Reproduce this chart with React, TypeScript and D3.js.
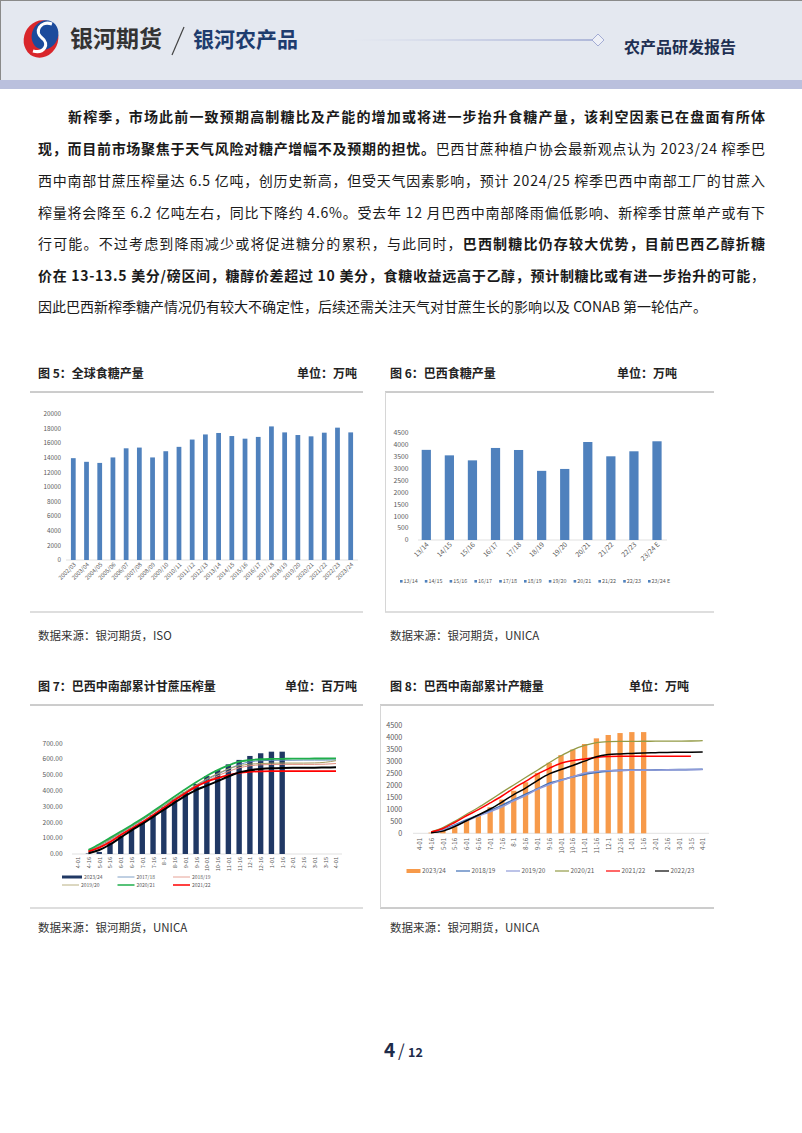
import React from 'react';
import * as d3 from 'd3';

const W = 802;
const H = 1133;
const FONT = '"Noto Sans CJK SC", "Noto Sans", sans-serif';

// ---------- Chart 5: global sugar production ----------
const globalSeasons = ['2002/03','2003/04','2004/05','2005/06','2006/07','2007/08','2008/09','2009/10','2010/11','2011/12','2012/13','2013/14','2014/15','2015/16','2016/17','2017/18','2018/19','2019/20','2020/21','2021/22','2022/23','2023/24'];
const globalProduction = [13950,13450,13300,14050,15300,15400,14050,14900,15500,16500,17200,17400,16980,16620,16860,18300,17480,17120,16940,17440,18130,17480];
const globalTicks = [0,2000,4000,6000,8000,10000,12000,14000,16000,18000,20000];

// ---------- Chart 6: Brazil sugar production ----------
const brazilSeasons = ['13/14','14/15','15/16','16/17','17/18','18/19','19/20','20/21','21/22','22/23','23/24 E'];
const brazilProduction = [3780,3550,3340,3860,3775,2900,2980,4110,3510,3720,4140];
const brazilTicks = [0,500,1000,1500,2000,2500,3000,3500,4000,4500];

// ---------- Shared x categories for charts 7/8 ----------
const harvestDates = ['4-01','4-16','5-01','5-16','6-01','6-16','7-01','7-16','8-1','8-16','9-01','9-16','10-01','10-16','11-01','11-16','12-1','12-16','1-01','1-16','2-01','2-16','3-01','3-15','4-01'];

// ---------- Chart 7: cumulative cane crush (million t) ----------
const crush2324 = [0,3,13,72,116,160,202,247,295,346,392,443,493,531,567,595,620,637,647,647,null,null,null,null,null];
const crush1718 = [null,20,50,90,132,172,215,260,305,350,392,432,470,505,537,565,583,590,592,593,593,594,594,594,595];
const crush1819 = [null,18,45,85,125,165,206,250,295,340,385,425,460,494,522,545,558,564,566,567,567,567,567,568,572];
const crush1920 = [null,22,55,95,135,176,218,262,307,352,395,436,475,508,538,558,568,572,574,575,575,575,576,580,590];
const crush2021 = [null,26,62,102,142,182,224,270,317,364,410,454,495,530,560,584,594,599,601,602,603,603,604,604,605];
const crush2122 = [null,15,40,76,120,160,200,245,292,340,384,426,458,480,498,513,520,523,524,524,524,524,524,524,524];
const crush2223 = [null,5,25,60,105,150,190,235,280,325,368,404,432,461,490,516,530,538,542,544,545,546,546,547,548];
const crushTicks = [0,100,200,300,400,500,600,700];

// ---------- Chart 8: cumulative sugar output (10k t) ----------
const sugar2324 = [0,30,110,280,520,760,1080,1400,1770,2120,2510,2930,3250,3480,3710,3945,4085,4165,4205,4205,null,null,null,null,null];
const sugar1819 = [null,30,150,350,560,750,950,1160,1400,1620,1850,2080,2210,2350,2450,2530,2585,2615,2625,2630,2635,2640,2645,2650,2660];
const sugar1920 = [null,30,140,320,520,720,900,1100,1350,1570,1830,2030,2200,2350,2500,2570,2600,2615,2620,2625,2630,2635,2640,2645,2650];
const sugar2021 = [null,60,240,500,790,1070,1380,1700,2010,2320,2620,2930,3220,3470,3650,3770,3810,3820,3822,3824,3826,3828,3830,3835,3850];
const sugar2122 = [null,50,200,450,730,980,1260,1550,1870,2160,2460,2700,2910,3020,3090,3150,3190,3200,3200,3200,3200,3200,3200,3200,null];
const sugar2223 = [null,20,90,280,520,760,1010,1300,1610,1880,2190,2470,2650,2820,3000,3180,3270,3300,3320,3340,3350,3360,3365,3370,3380];
const sugarTicks = [0,500,1000,1500,2000,2500,3000,3500,4000,4500];

const crushLines = [
  { name: '2017/18', data: crush1718, color: '#5f88b8', width: 1 },
  { name: '2018/19', data: crush1819, color: '#e08a7b', width: 1 },
  { name: '2019/20', data: crush1920, color: '#a79c62', width: 1 },
  { name: '2020/21', data: crush2021, color: '#1fae4b', width: 1.8 },
  { name: '2021/22', data: crush2122, color: '#ff0000', width: 1.8 },
  { name: '2022/23', data: crush2223, color: '#000000', width: 2 },
];

const sugarLines = [
  { name: '2018/19', data: sugar1819, color: '#3d6db5', width: 1.6 },
  { name: '2019/20', data: sugar1920, color: '#8f9ad8', width: 1.6 },
  { name: '2020/21', data: sugar2021, color: '#939a45', width: 1.3 },
  { name: '2021/22', data: sugar2122, color: '#ff0000', width: 1.5 },
  { name: '2022/23', data: sugar2223, color: '#000000', width: 1.5 },
];

const AXIS_TEXT = '#595959';

function Chart5() {
  const x = d3.scalePoint<string>().domain(globalSeasons).range([73.3, 350.7]);
  const y = d3.scaleLinear().domain([0, 20000]).range([560, 414]);
  const bw = x.step() * 0.36;
  return (
    <g>
      {globalTicks.map(t => (
        <text key={t} x={61} y={y(t)} dy="0.35em" textAnchor="end" fontSize={6.3} fill={AXIS_TEXT} fontFamily={FONT}>{t}</text>
      ))}
      <line x1={66} x2={358} y1={y(0)} y2={y(0)} stroke="#d9d9d9" strokeWidth={0.8} />
      {globalSeasons.map((s, i) => (
        <rect key={s} x={(x(s) as number) - bw / 2} width={bw} y={y(globalProduction[i])} height={y(0) - y(globalProduction[i])} fill="#4f81bd" />
      ))}
      {globalSeasons.map(s => (
        <text key={s} transform={`translate(${(x(s) as number) + 3},${565}) rotate(-45)`} textAnchor="end" fontSize={5.8} fill={AXIS_TEXT} fontFamily={FONT}>{s}</text>
      ))}
    </g>
  );
}

function Chart6() {
  const x = d3.scalePoint<string>().domain(brazilSeasons).range([426.3, 657]);
  const y = d3.scaleLinear().domain([0, 4500]).range([540, 432.7]);
  const bw = x.step() * 0.4;
  const lx = d3.scalePoint<string>().domain(brazilSeasons).range([400, 648]);
  return (
    <g>
      {brazilTicks.map(t => (
        <text key={t} x={408.5} y={y(t)} dy="0.35em" textAnchor="end" fontSize={6.8} fill={AXIS_TEXT} fontFamily={FONT}>{t}</text>
      ))}
      <line x1={418} x2={667} y1={y(0)} y2={y(0)} stroke="#d9d9d9" strokeWidth={0.8} />
      {brazilSeasons.map((s, i) => (
        <rect key={s} x={(x(s) as number) - bw / 2} width={bw} y={y(brazilProduction[i])} height={y(0) - y(brazilProduction[i])} fill="#4f81bd" />
      ))}
      {brazilSeasons.map(s => (
        <text key={s} transform={`translate(${(x(s) as number) + 3},${545}) rotate(-45)`} textAnchor="end" fontSize={6.8} fill={AXIS_TEXT} fontFamily={FONT}>{s}</text>
      ))}
      {brazilSeasons.map(s => (
        <g key={s}>
          <rect x={lx(s) as number} y={580} width={2.6} height={2.6} fill="#4f81bd" />
          <text x={(lx(s) as number) + 3.6} y={582.8} fontSize={5.4} fill={AXIS_TEXT} fontFamily={FONT}>{s}</text>
        </g>
      ))}
    </g>
  );
}

function Chart7() {
  const idx = harvestDates.map((_, i) => i);
  const x = d3.scalePoint<number>().domain(idx).range([77.7, 336]);
  const y = d3.scaleLinear().domain([0, 700]).range([854, 743.3]);
  const bw = x.step() * 0.5;
  const line = d3.line<number | null>()
    .defined(d => d != null)
    .x((_, i) => x(i) as number)
    .y(d => y(d as number))
    .curve(d3.curveMonotoneX);
  const legend = [
    { name: '2023/24', color: '#203864', bar: true, w: 3, row: 0, col: 0 },
    { name: '2017/18', color: '#5f88b8', w: 0.8, row: 0, col: 1 },
    { name: '2018/19', color: '#e08a7b', w: 0.8, row: 0, col: 2 },
    { name: '2019/20', color: '#a79c62', w: 0.8, row: 1, col: 0 },
    { name: '2020/21', color: '#1fae4b', w: 1.5, row: 1, col: 1 },
    { name: '2021/22', color: '#ff0000', w: 1.5, row: 1, col: 2 },
  ];
  return (
    <g>
      {crushTicks.map(t => (
        <text key={t} x={62.7} y={y(t)} dy="0.35em" textAnchor="end" fontSize={6.6} fill={AXIS_TEXT} fontFamily={FONT}>{t.toFixed(2)}</text>
      ))}
      <line x1={72} x2={342} y1={y(0)} y2={y(0)} stroke="#d9d9d9" strokeWidth={0.8} />
      {crush2324.map((v, i) => v == null ? null : (
        <rect key={i} x={(x(i) as number) - bw / 2} width={bw} y={y(v)} height={y(0) - y(v)} fill="#203864" />
      ))}
      {crushLines.map(l => (
        <path key={l.name} d={line(l.data) || ''} fill="none" stroke={l.color} strokeWidth={l.width} />
      ))}
      {harvestDates.map((d, i) => (
        <text key={i} transform={`translate(${(x(i) as number) + 0.5},${857}) rotate(-90)`} textAnchor="end" dy="0.35em" fontSize={5.6} fill={AXIS_TEXT} fontFamily={FONT}>{d}</text>
      ))}
      {legend.map(l => {
        const lx = 62 + l.col * 55.5;
        const ly = 877 + l.row * 8;
        return (
          <g key={l.name}>
            <line x1={lx} x2={lx + (l.bar ? 20 : 17)} y1={ly} y2={ly} stroke={l.color} strokeWidth={l.w} />
            <text x={lx + (l.bar ? 22 : 19)} y={ly} dy="0.35em" fontSize={5} fill={AXIS_TEXT} fontFamily={FONT}>{l.name}</text>
          </g>
        );
      })}
    </g>
  );
}

function Chart8() {
  const idx = harvestDates.map((_, i) => i);
  const x = d3.scalePoint<number>().domain(idx).range([419.3, 702.7]);
  const y = d3.scaleLinear().domain([0, 4500]).range([833.3, 725]);
  const bw = x.step() * 0.45;
  const line = d3.line<number | null>()
    .defined(d => d != null)
    .x((_, i) => x(i) as number)
    .y(d => y(d as number))
    .curve(d3.curveMonotoneX);
  const legend = [
    { name: '2023/24', color: '#f79a4a', w: 4, x: 406.5 },
    { name: '2018/19', color: '#3d6db5', w: 1.2, x: 456 },
    { name: '2019/20', color: '#8f9ad8', w: 1.2, x: 506 },
    { name: '2020/21', color: '#939a45', w: 1.2, x: 555 },
    { name: '2021/22', color: '#ff0000', w: 1.2, x: 606 },
    { name: '2022/23', color: '#000000', w: 1.2, x: 655 },
  ];
  return (
    <g>
      {sugarTicks.map(t => (
        <text key={t} x={402.3} y={y(t)} dy="0.35em" textAnchor="end" fontSize={7.2} fill={AXIS_TEXT} fontFamily={FONT}>{t}</text>
      ))}
      <line x1={413} x2={709} y1={y(0)} y2={y(0)} stroke="#d9d9d9" strokeWidth={0.8} />
      {sugar2324.map((v, i) => v == null ? null : (
        <rect key={i} x={(x(i) as number) - bw / 2} width={bw} y={y(v)} height={y(0) - y(v)} fill="#f79a4a" />
      ))}
      {sugarLines.map(l => (
        <path key={l.name} d={line(l.data) || ''} fill="none" stroke={l.color} strokeWidth={l.width} />
      ))}
      {harvestDates.map((d, i) => (
        <text key={i} transform={`translate(${(x(i) as number) + 0.5},${838}) rotate(-90)`} textAnchor="end" dy="0.35em" fontSize={6} fill={AXIS_TEXT} fontFamily={FONT}>{d}</text>
      ))}
      {legend.map(l => (
        <g key={l.name}>
          <line x1={l.x} x2={l.x + 14} y1={871} y2={871} stroke={l.color} strokeWidth={l.w} />
          <text x={l.x + 15.5} y={871} dy="0.35em" fontSize={6.4} fill={AXIS_TEXT} fontFamily={FONT}>{l.name}</text>
        </g>
      ))}
    </g>
  );
}

type Seg = { t: string; b?: boolean };
const paragraph: { segs: Seg[]; x: number; justify: boolean }[] = [
  { x: 68, justify: true, segs: [{ t: '新榨季，市场此前一致预期高制糖比及产能的增加或将进一步抬升食糖产量，该利空因素已在盘面有所体', b: true }] },
  { x: 38, justify: true, segs: [{ t: '现，而目前市场聚焦于天气风险对糖产增幅不及预期的担忧。', b: true }, { t: '巴西甘蔗种植户协会最新观点认为 2023/24 榨季巴' }] },
  { x: 38, justify: true, segs: [{ t: '西中南部甘蔗压榨量达 6.5 亿吨，创历史新高，但受天气因素影响，预计 2024/25 榨季巴西中南部工厂的甘蔗入' }] },
  { x: 38, justify: true, segs: [{ t: '榨量将会降至 6.2 亿吨左右，同比下降约 4.6%。受去年 12 月巴西中南部降雨偏低影响、新榨季甘蔗单产或有下' }] },
  { x: 38, justify: true, segs: [{ t: '行可能。不过考虑到降雨减少或将促进糖分的累积，与此同时，' }, { t: '巴西制糖比仍存较大优势，目前巴西乙醇折糖', b: true }] },
  { x: 38, justify: true, segs: [{ t: '价在 13-13.5 美分/磅区间，糖醇价差超过 10 美分，食糖收益远高于乙醇，预计制糖比或有进一步抬升的可能', b: true }, { t: '，' }] },
  { x: 38, justify: false, segs: [{ t: '因此巴西新榨季糖产情况仍有较大不确定性，后续还需关注天气对甘蔗生长的影响以及 CONAB 第一轮估产。' }] },
];
const lineBaselines = [122, 154, 186, 218, 249, 281, 312];

export default function App() {
  return (
    <div style={{ position: 'absolute', left: 0, top: 0, width: W, height: H, background: '#fff' }}>
      <svg width={W} height={H} viewBox={`0 0 ${W} ${H}`} style={{ display: 'block' }}>
        <defs>
          <linearGradient id="hdrLine" gradientUnits="userSpaceOnUse" x1="350" x2="592" y1="40" y2="40">
            <stop offset="0" stopColor="#c9cfe6" stopOpacity={0} />
            <stop offset="0.5" stopColor="#b4bcdc" stopOpacity={0.7} />
            <stop offset="1" stopColor="#9aa5d0" stopOpacity={1} />
          </linearGradient>
        </defs>
        <rect x={0} y={0} width={W} height={H} fill="#fff" />
        {/* Header */}
        <rect x={0} y={0} width={W} height={80} fill="#e4e8f0" />
        <rect x={0} y={80} width={W} height={9} fill="#bac0dd" />
        <line x1={0} x2={W} y1={0.5} y2={0.5} stroke="#8a8a8a" />
        <line x1={0.5} x2={0.5} y1={0} y2={80} stroke="#8a8a8a" />
        {/* logo */}
        <g>
          <ellipse cx={41} cy={39} rx={17} ry={19} transform="rotate(25 41 39)" fill="#d9262b" />
          <ellipse cx={45} cy={35} rx={13} ry={15} transform="rotate(25 45 35)" fill="#1c4b9c" />
          <path d="M52,24 C40,20 34,32 42,38 C50,44 44,54 33,51" fill="none" stroke="#fff" strokeWidth={3.2} />
        </g>
        <text x={70} y={47} fontSize={23} fontWeight={700} fill="#333" fontFamily={FONT}>银河期货</text>
        <line x1={184} x2={172} y1={27} y2={55} stroke="#444" strokeWidth={1.2} />
        <text x={193} y={47} fontSize={21} fontWeight={700} fill="#1e3c6e" fontFamily={FONT}>银河农产品</text>
        <rect x={350} y={39.3} width={242} height={1.4} fill="url(#hdrLine)" />
        <path d="M598,34 L604,40 L598,46 L592,40 Z" fill="#eef0f7" stroke="#a3acd4" strokeWidth={1} />
        <text x={624} y={53} fontSize={16} fontWeight={700} fill="#1e2f52" fontFamily={FONT}>农产品研发报告</text>

        {/* Paragraph */}
        {paragraph.map((p, i) => (
          <text key={i} x={p.x} y={lineBaselines[i]} fontSize={14} fill="#1a1a1a" fontFamily={FONT}
            {...(p.justify ? { textLength: 765 - p.x, lengthAdjust: 'spacing' } : {})}>
            {p.segs.map((s, j) => (
              <tspan key={j} fontWeight={s.b ? 700 : 400}>{s.t}</tspan>
            ))}
          </text>
        ))}

        {/* Chart titles row 1 */}
        <text x={38} y={378} fontSize={12} fontWeight={700} fill="#222" fontFamily={FONT}>图 5：全球食糖产量</text>
        <text x={357} y={378} fontSize={12} fontWeight={700} fill="#222" textAnchor="end" fontFamily={FONT}>单位：万吨</text>
        <text x={390} y={378} fontSize={12} fontWeight={700} fill="#222" fontFamily={FONT}>图 6：巴西食糖产量</text>
        <text x={677} y={378} fontSize={12} fontWeight={700} fill="#222" textAnchor="end" fontFamily={FONT}>单位：万吨</text>
        <line x1={30} x2={363} y1={392} y2={392} stroke="#9a9a9a" strokeWidth={1} />
        <line x1={385} x2={714} y1={392} y2={392} stroke="#9a9a9a" strokeWidth={1} />
        <line x1={30} x2={363} y1={612} y2={612} stroke="#bdbdbd" strokeWidth={1} />
        <line x1={385} x2={714} y1={612} y2={612} stroke="#bdbdbd" strokeWidth={1} />
        <line x1={385.5} x2={385.5} y1={392} y2={612} stroke="#d6d6d6" strokeWidth={1} />
        <Chart5 />
        <Chart6 />
        <text x={38} y={640} fontSize={11.5} fill="#333" fontFamily={FONT}>数据来源：银河期货，ISO</text>
        <text x={390} y={640} fontSize={11.5} fill="#333" fontFamily={FONT}>数据来源：银河期货，UNICA</text>

        {/* Chart titles row 2 */}
        <text x={38} y={691} fontSize={12} fontWeight={700} fill="#222" fontFamily={FONT}>图 7：巴西中南部累计甘蔗压榨量</text>
        <text x={357} y={691} fontSize={12} fontWeight={700} fill="#222" textAnchor="end" fontFamily={FONT}>单位：百万吨</text>
        <text x={390} y={691} fontSize={12} fontWeight={700} fill="#222" fontFamily={FONT}>图 8：巴西中南部累计产糖量</text>
        <text x={689} y={691} fontSize={12} fontWeight={700} fill="#222" textAnchor="end" fontFamily={FONT}>单位：万吨</text>
        <line x1={30} x2={363} y1={705} y2={705} stroke="#9a9a9a" strokeWidth={1} />
        <line x1={380} x2={714} y1={705} y2={705} stroke="#9a9a9a" strokeWidth={1} />
        <line x1={30} x2={363} y1={908} y2={908} stroke="#bdbdbd" strokeWidth={1} />
        <line x1={380} x2={714} y1={908} y2={908} stroke="#9a9a9a" strokeWidth={1} />
        <line x1={380.5} x2={380.5} y1={705} y2={908} stroke="#d6d6d6" strokeWidth={1} />
        <Chart7 />
        <Chart8 />
        <text x={38} y={932} fontSize={11.5} fill="#333" fontFamily={FONT}>数据来源：银河期货，UNICA</text>
        <text x={390} y={932} fontSize={11.5} fill="#333" fontFamily={FONT}>数据来源：银河期货，UNICA</text>

        {/* Page number */}
        <text x={384} y={1057} fontSize={19} fontWeight={700} fill="#1e2b4a" fontFamily={FONT}>4</text>
        <text x={398} y={1057} fontSize={17} fill="#1e2b4a" fontFamily={FONT}>/</text>
        <text x={408} y={1057} fontSize={12.5} fontWeight={700} fill="#1e2b4a" fontFamily={FONT}>12</text>
      </svg>
    </div>
  );
}
